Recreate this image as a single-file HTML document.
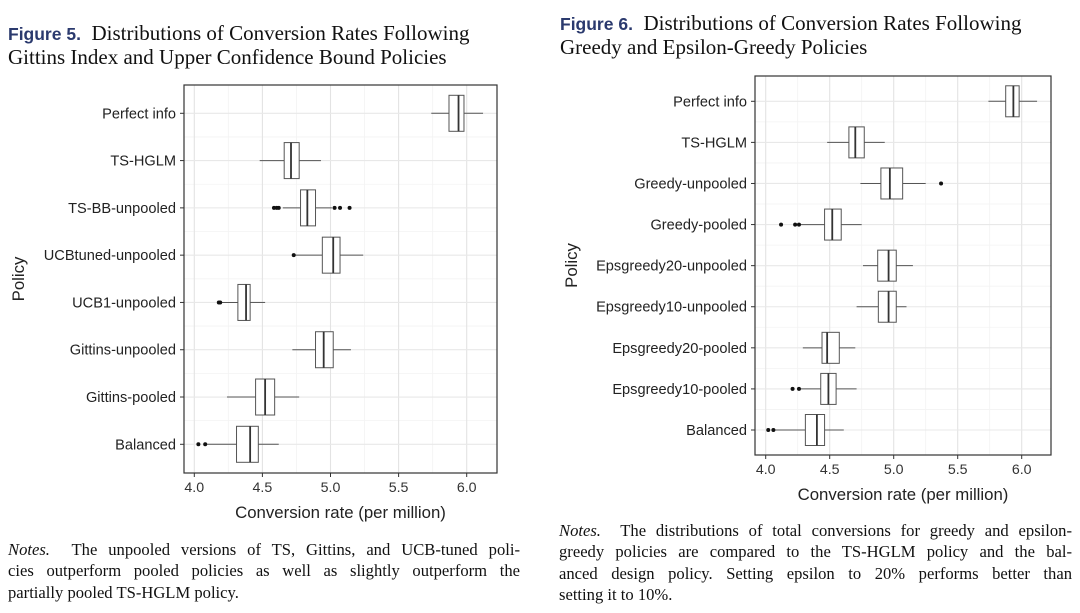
<!DOCTYPE html>
<html><head><meta charset="utf-8"><style>
body{margin:0;width:1080px;height:613px;background:#fff;position:relative;overflow:hidden;font-family:"Liberation Serif",serif;color:#111}
.t{position:absolute;font-size:21px;line-height:23px;white-space:nowrap}
.t b{font-family:"Liberation Sans",sans-serif;color:#2b3a6e;font-size:17.5px}
.n{position:absolute;font-size:16.6px;line-height:21.3px}
.n div{text-align:justify;text-align-last:justify;white-space:nowrap}
.n div.last{text-align-last:left}
svg{position:absolute;left:0;top:0}
</style></head><body>
<div class="t" style="left:8px;top:22px"><b>Figure 5.</b>&nbsp; Distributions of Conversion Rates Following<br>Gittins Index and Upper Confidence Bound Policies</div>
<div class="t" style="left:560px;top:12px"><b>Figure 6.</b>&nbsp; Distributions of Conversion Rates Following<br>Greedy and Epsilon-Greedy Policies</div>
<div class="n" style="left:8px;top:539px;width:512px">
<div><i>Notes.</i>&nbsp; The unpooled versions of TS, Gittins, and UCB-tuned poli-</div>
<div>cies outperform pooled policies as well as slightly outperform the</div>
<div class="last">partially pooled TS-HGLM policy.</div></div>
<div class="n" style="left:559px;top:520px;width:513px">
<div><i>Notes.</i>&nbsp; The distributions of total conversions for greedy and epsilon-</div>
<div>greedy policies are compared to the TS-HGLM policy and the bal-</div>
<div>anced design policy. Setting epsilon to 20% performs better than</div>
<div class="last">setting it to 10%.</div></div>
<svg id="svg" width="1080" height="613"></svg>
<script>
// Figure 5 data: [whiskerLow, q1, median, q3, whiskerHigh]
const cats5 = ["Perfect info","TS-HGLM","TS-BB-unpooled","UCBtuned-unpooled","UCB1-unpooled","Gittins-unpooled","Gittins-pooled","Balanced"];
const box5 = [[5.74,5.87,5.94,5.98,6.12],[4.48,4.66,4.71,4.77,4.93],[4.65,4.78,4.83,4.89,5.01],[4.74,4.94,5.02,5.07,5.24],[4.20,4.32,4.38,4.41,4.52],[4.72,4.89,4.95,5.02,5.15],[4.24,4.45,4.52,4.59,4.77],[4.09,4.31,4.41,4.47,4.62]];
const out5 = [[],[],[4.585,4.605,4.62,5.03,5.07,5.14],[4.73],[4.18,4.19],[],[],[4.03,4.08]];
// Figure 6 data
const cats6 = ["Perfect info","TS-HGLM","Greedy-unpooled","Greedy-pooled","Epsgreedy20-unpooled","Epsgreedy10-unpooled","Epsgreedy20-pooled","Epsgreedy10-pooled","Balanced"];
const box6 = [[5.74,5.875,5.935,5.98,6.12],[4.48,4.65,4.70,4.77,4.93],[4.74,4.90,4.97,5.07,5.25],[4.27,4.46,4.52,4.59,4.75],[4.76,4.875,4.96,5.02,5.15],[4.71,4.88,4.96,5.02,5.10],[4.29,4.44,4.48,4.575,4.70],[4.27,4.43,4.49,4.55,4.71],[4.07,4.31,4.40,4.46,4.61]];
const out6 = [[],[],[5.37],[4.12,4.23,4.26],[],[],[],[4.21,4.26],[4.02,4.06]];
const xticks = [4.0,4.5,5.0,5.5,6.0];
const xtickLabels = ["4.0","4.5","5.0","5.5","6.0"];

const NS="http://www.w3.org/2000/svg";
const svg=document.getElementById('svg');
function el(tag,attrs,parent,text){const e=document.createElementNS(NS,tag);for(const k in attrs)e.setAttribute(k,attrs[k]);if(text!==undefined)e.textContent=text;(parent||svg).appendChild(e);return e;}

function chart(cfg,cats,boxes,outs,name){
  const g=el('g',{});
  
  
  const x=v=>cfg.x0+(v-4)*(cfg.x6-cfg.x0)/2;
  const y=i=>cfg.yTop+i*(cfg.yBot-cfg.yTop)/(cats.length-1);
  for(let v=3.75;v<=6.3;v+=0.5){const px=x(v);if(px>cfg.L&&px<cfg.R){const l=el('line',{x1:px,x2:px,y1:cfg.T,y2:cfg.B,stroke:'#f3f3f3','stroke-width':0.8},g);}}
  for(let i=0;i<cats.length-1;i++){const py=(y(i)+y(i+1))/2;el('line',{x1:cfg.L,x2:cfg.R,y1:py,y2:py,stroke:'#f3f3f3','stroke-width':0.8},g);}
  xticks.forEach((v,i)=>{const l=el('line',{x1:x(v),x2:x(v),y1:cfg.T,y2:cfg.B,stroke:'#e3e3e3','stroke-width':1.1},g);
    el('line',{x1:x(v),x2:x(v),y1:cfg.B,y2:cfg.B+4,stroke:'#333'},g);
    const t=el('text',{x:x(v),y:cfg.B+19,'text-anchor':'middle','font-size':14.2,fill:'#333','font-family':'Liberation Sans, sans-serif'},g,xtickLabels[i]);
    });
  cats.forEach((c,i)=>{el('line',{x1:cfg.L,x2:cfg.R,y1:y(i),y2:y(i),stroke:'#e8e8e8','stroke-width':1.1},g);
    el('line',{x1:cfg.L-4,x2:cfg.L,y1:y(i),y2:y(i),stroke:'#333'},g);
    const t=el('text',{x:cfg.L-8,y:y(i)+5,'text-anchor':'end','font-size':14.6,fill:'#222','font-family':'Liberation Sans, sans-serif'},g,c);
    });
  boxes.forEach((b,i)=>{const cy=y(i),h=cfg.bh;
    const bg=el('g',{},g);
    
    
    el('line',{x1:x(b[0]),x2:x(b[1]),y1:cy,y2:cy,stroke:'#555','stroke-width':1},bg);
    el('line',{x1:x(b[3]),x2:x(b[4]),y1:cy,y2:cy,stroke:'#555','stroke-width':1},bg);
    el('rect',{x:x(b[1]),y:cy-h/2,width:x(b[3])-x(b[1]),height:h,fill:'#fff',stroke:'#555','stroke-width':1},bg);
    el('line',{x1:x(b[2]),x2:x(b[2]),y1:cy-h/2,y2:cy+h/2,stroke:'#333','stroke-width':1.8},bg);
    outs[i].forEach(o=>{const c=el('circle',{cx:x(o),cy:cy,r:2,fill:'#111'},bg);});
  });
  const p=el('rect',{x:cfg.L,y:cfg.T,width:cfg.R-cfg.L,height:cfg.B-cfg.T,fill:'none',stroke:'#333','stroke-width':1.2},g);
  
  const xt=el('text',{x:(cfg.L+cfg.R)/2,y:cfg.B+45,'text-anchor':'middle','font-size':16.8,fill:'#222','font-family':'Liberation Sans, sans-serif'},g,'Conversion rate (per million)');
  
  const yt=el('text',{x:0,y:0,transform:`translate(${cfg.yx},${(cfg.T+cfg.B)/2}) rotate(-90)`,'text-anchor':'middle','font-size':16.8,fill:'#222','font-family':'Liberation Sans, sans-serif'},g,'Policy');
  
}
chart({L:184,R:497,T:85,B:473,x0:194.3,x6:466.7,yTop:113.3,yBot:444.3,bh:36,yx:24},cats5,box5,out5,'figure-5-boxplot');
chart({L:755,R:1051,T:76,B:455,x0:765.7,x6:1021.7,yTop:101.3,yBot:430,bh:31,yx:577},cats6,box6,out6,'figure-6-boxplot');
</script>
</body></html>
